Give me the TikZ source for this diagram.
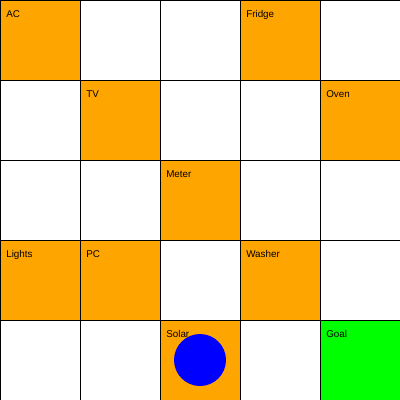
\documentclass[tikz,border=0pt]{standalone}
\usepackage{fontspec}
\setmainfont{Liberation Sans}
\definecolor{cellorange}{HTML}{FFA500}
\definecolor{goalgreen}{HTML}{00FF00}
\definecolor{agentblue}{HTML}{0000FF}
\tikzset{
  cell/.style={draw=black, line width=0.7pt, minimum size=2cm, inner sep=0pt, outer sep=0pt, anchor=north west},
  plain/.style={cell, fill=white},
  appl/.style={cell, fill=cellorange},
  goal/.style={cell, fill=goalgreen},
  lbl/.style={anchor=base west, inner sep=0pt, font=\fontsize{7}{8}\selectfont},
}
\begin{document}
\begin{tikzpicture}
\useasboundingbox (0,0) rectangle (10,-10);
% row 0
\node[appl]  (c00) at (0,0) {};
\node[plain] (c10) at (2,0) {};
\node[plain] (c20) at (4,0) {};
\node[appl]  (c30) at (6,0) {};
\node[plain] (c40) at (8,0) {};
% row 1
\node[plain] (c01) at (0,-2) {};
\node[appl]  (c11) at (2,-2) {};
\node[plain] (c21) at (4,-2) {};
\node[plain] (c31) at (6,-2) {};
\node[appl]  (c41) at (8,-2) {};
% row 2
\node[plain] (c02) at (0,-4) {};
\node[plain] (c12) at (2,-4) {};
\node[appl]  (c22) at (4,-4) {};
\node[plain] (c32) at (6,-4) {};
\node[plain] (c42) at (8,-4) {};
% row 3
\node[appl]  (c03) at (0,-6) {};
\node[appl]  (c13) at (2,-6) {};
\node[plain] (c23) at (4,-6) {};
\node[appl]  (c33) at (6,-6) {};
\node[plain] (c43) at (8,-6) {};
% row 4
\node[plain] (c04) at (0,-8) {};
\node[plain] (c14) at (2,-8) {};
\node[appl]  (c24) at (4,-8) {};
\node[plain] (c34) at (6,-8) {};
\node[goal]  (c44) at (8,-8) {};
% labels
\node[lbl] (lAC) at ([shift={(0.15,-0.43)}]c00.north west) {AC};
\node[lbl] (lFr) at ([shift={(0.15,-0.43)}]c30.north west) {Fridge};
\node[lbl] (lTV) at ([shift={(0.15,-0.43)}]c11.north west) {TV};
\node[lbl] (lOv) at ([shift={(0.15,-0.43)}]c41.north west) {Oven};
\node[lbl] (lMe) at ([shift={(0.15,-0.43)}]c22.north west) {Meter};
\node[lbl] (lLi) at ([shift={(0.15,-0.43)}]c03.north west) {Lights};
\node[lbl] (lPC) at ([shift={(0.15,-0.43)}]c13.north west) {PC};
\node[lbl] (lWa) at ([shift={(0.15,-0.43)}]c33.north west) {Washer};
\node[lbl] (lSo) at ([shift={(0.15,-0.43)}]c24.north west) {Solar};
\node[lbl] (lGo) at ([shift={(0.15,-0.43)}]c44.north west) {Goal};
% agent
\node[circle, fill=agentblue, minimum size=1.3cm, inner sep=0pt] (agent) at (c24.center) {};
\end{tikzpicture}
\end{document}
